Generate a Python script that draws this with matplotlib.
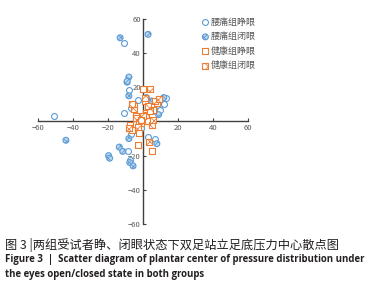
import matplotlib
matplotlib.use("Agg")
import matplotlib.pyplot as plt

plt.rcParams['font.family'] = ['Noto Sans CJK SC', 'DejaVu Sans']
plt.rcParams['hatch.linewidth'] = 0.6

# 腰痛组睁眼 (low back pain, eyes open)
lbp_open_x = [-51, -11, -8, -3, -11, -6.5, 9, 12, 6, 10, 3, 7, -6.5, -8.5, -7.5, -1, 13]
lbp_open_y = [3, 46, 18.5, 12.7, 5, 8, 9, 10, 6, 7, -9, -10, -7.5, -17, -22.5, -4, 14]
# 腰痛组闭眼 (low back pain, eyes closed)
lbp_closed_x = [-13, 3, -8, -9, -8, 2, 12, 9, -8, 8, -13.5, -11.5, -19.6, -19, -7.5, -5.6, -44, 5, -9]
lbp_closed_y = [49, 51, 26, 23, 15, 14, 14, 4, -10, -13, -15, -17.5, -20, -21.5, -24, -26, -11, 12, 23.5]
# 健康组睁眼 (healthy, eyes open)
hc_open_x = [-7.5, -2, -3, 5, 0, -5, 8, 2, -4, 3, 6, -1, 1, -6]
hc_open_y = [-2, -7, -14, -17, 19, 9, 11, 5, 3, 0, 7, -1, 12, -5]
# 健康组闭眼 (healthy, eyes closed)
hc_closed_x = [4, -6, -5, 7, -4, 3.4, -2, 2, 5, -3, 0, 6, 9, 1, -8, 4, -1, 3]
hc_closed_y = [19, 10, 7, 12, 2, -12, 0, 4, -2, -3, 3, 1, 13, 14, -4, 6, 1, 9]

labels = ['腰痛组睁眼', '腰痛组闭眼', '健康组睁眼', '健康组闭眼']
ticks = [-60, -40, -20, 20, 40, 60]

blue = '#5b9bd5'
orange = '#ed7d31'

fig = plt.figure(figsize=(3.83, 2.92), dpi=100)
ax = fig.add_axes([0.099, 0.233, 0.548, 0.702])

s = 18
h1 = ax.scatter(lbp_open_x, lbp_open_y, s=s, marker='o', facecolors='white', edgecolors=blue, linewidths=0.8, zorder=3)
h2 = ax.scatter(lbp_closed_x, lbp_closed_y, s=s, marker='o', facecolors='#bdd7ee', edgecolors=blue, linewidths=0.8, hatch='xxxx', zorder=3)
h3 = ax.scatter(hc_open_x, hc_open_y, s=s, marker='s', facecolors='white', edgecolors=orange, linewidths=0.8, zorder=3)
h4 = ax.scatter(hc_closed_x, hc_closed_y, s=s, marker='s', facecolors='white', edgecolors=orange, linewidths=0.8, hatch='xxxx', zorder=3)

ax.set_xlim(-60, 60)
ax.set_ylim(-60, 60)
ax.spines['left'].set_position('zero')
ax.spines['bottom'].set_position('zero')
ax.spines['top'].set_visible(False)
ax.spines['right'].set_visible(False)
for sp in ('left', 'bottom'):
    ax.spines[sp].set_color('#404040')
    ax.spines[sp].set_linewidth(1.0)
ax.set_xticks(ticks)
ax.set_yticks(ticks)
ax.tick_params(axis='both', labelsize=5.5, labelcolor='#595959', color='#404040', length=2.5, width=0.8, pad=1.5)
ax.tick_params(axis='x', direction='in')
ax.tick_params(axis='y', direction='in')
ax.set_facecolor('none')

leg = fig.legend([h1, h2, h3, h4], labels, loc='upper left', bbox_to_anchor=(0.515, 0.952),
                 frameon=False, fontsize=6.5, labelcolor='#595959', handletextpad=0.1,
                 handlelength=1.0, labelspacing=0.62, borderaxespad=0)

fig.text(0.013, 0.161, '图 3 |两组受试者睁、闭眼状态下双足站立足底压力中心散点图', fontsize=8.8, color='#231f20', va='center')
fig.text(0.013, 0.112, 'Figure 3  |  Scatter diagram of plantar center of pressure distribution under',
         fontsize=6.9, fontweight='bold', color='#231f20', va='center', family='Open Sans')
fig.text(0.013, 0.061, 'the eyes open/closed state in both groups',
         fontsize=6.9, fontweight='bold', color='#231f20', va='center', family='Open Sans')

fig.savefig('out.png', dpi=100)
